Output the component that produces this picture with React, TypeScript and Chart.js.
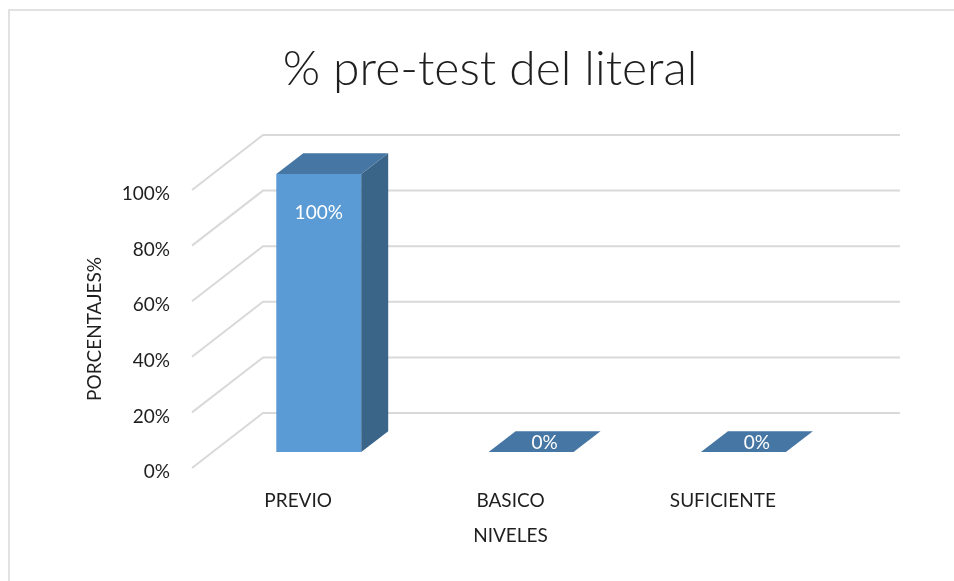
import React, { useEffect, useRef } from 'react';
import { Chart, registerables } from 'chart.js';

Chart.register(...registerables);

const TITLE = '% pre-test del literal';
const CATEGORIES = ['PREVIO', 'BASICO', 'SUFICIENTE'];
const VALUES = [1, 0, 0];
const Y_TICKS = [0, 0.2, 0.4, 0.6, 0.8, 1];
const X_TITLE = 'NIVELES';
const Y_TITLE = 'PORCENTAJES%';

const FONT = 'Lato, "Noto Sans", sans-serif';
const TEXT = '#1f1f1f';
const GRID = '#d9d9d9';
const FRONT = '#5b9bd5';
const SIDE = '#3b6489';
const TOP = '#4676a3';
const DEPTH = { dx: 71, dy: -55 };
const BAR_FRONT = 0.29;
const BAR_BACK = 0.67;

const pct = (v: number) => Math.round(v * 100) + '%';

const threeD = {
  id: 'threeD',
  beforeDraw(chart: any) {
    const ctx = chart.ctx;
    ctx.save();
    ctx.strokeStyle = GRID;
    ctx.lineWidth = 1.5;
    ctx.beginPath();
    ctx.moveTo(1, chart.height);
    ctx.lineTo(1, 2);
    ctx.lineTo(chart.width, 2);
    ctx.stroke();
    ctx.restore();
  },
  beforeDatasetsDraw(chart: any) {
    const { ctx } = chart;
    const x = chart.scales.x;
    const y = chart.scales.y;
    ctx.save();
    ctx.strokeStyle = GRID;
    ctx.lineWidth = 2;
    for (const t of Y_TICKS) {
      const py = y.getPixelForValue(t);
      ctx.beginPath();
      ctx.moveTo(x.left, py);
      ctx.lineTo(x.left + DEPTH.dx, py + DEPTH.dy);
      ctx.lineTo(x.right + DEPTH.dx, py + DEPTH.dy);
      ctx.stroke();
    }
    ctx.restore();
  },
  beforeDatasetDraw(chart: any) {
    const ctx = chart.ctx;
    ctx.save();
    ctx.translate(DEPTH.dx * BAR_FRONT, DEPTH.dy * BAR_FRONT);
  },
  afterDatasetDraw(chart: any, args: any) {
    const ctx = chart.ctx;
    const ddx = DEPTH.dx * (BAR_BACK - BAR_FRONT);
    const ddy = DEPTH.dy * (BAR_BACK - BAR_FRONT);
    args.meta.data.forEach((bar: any) => {
      const { x, y, base, width } = bar.getProps(['x', 'y', 'base', 'width'], true);
      const l = x - width / 2;
      const r = x + width / 2;
      if (base - y > 0.5) {
        ctx.fillStyle = SIDE;
        ctx.beginPath();
        ctx.moveTo(r, y);
        ctx.lineTo(r + ddx, y + ddy);
        ctx.lineTo(r + ddx, base + ddy);
        ctx.lineTo(r, base);
        ctx.closePath();
        ctx.fill();
      }
      ctx.fillStyle = TOP;
      ctx.beginPath();
      ctx.moveTo(l, y);
      ctx.lineTo(r, y);
      ctx.lineTo(r + ddx, y + ddy);
      ctx.lineTo(l + ddx, y + ddy);
      ctx.closePath();
      ctx.fill();
    });
    ctx.restore();
  },
  afterDatasetsDraw(chart: any) {
    const ctx = chart.ctx;
    const meta = chart.getDatasetMeta(0);
    const fdx = DEPTH.dx * BAR_FRONT;
    const fdy = DEPTH.dy * BAR_FRONT;
    const ddx = DEPTH.dx * (BAR_BACK - BAR_FRONT);
    const ddy = DEPTH.dy * (BAR_BACK - BAR_FRONT);
    ctx.save();
    ctx.fillStyle = '#ffffff';
    ctx.font = `19px ${FONT}`;
    ctx.textAlign = 'center';
    ctx.textBaseline = 'middle';
    meta.data.forEach((bar: any, i: number) => {
      const { x, y, base } = bar.getProps(['x', 'y', 'base'], true);
      const v = VALUES[i];
      const txt = pct(v);
      if (base - y > 40) {
        ctx.fillText(txt, x + fdx, y + fdy + 39);
      } else {
        ctx.fillText(txt, x + fdx + ddx / 2, y + fdy + ddy / 2 + 1);
      }
    });
    ctx.restore();
  },
};

export default function App() {
  const ref = useRef<HTMLCanvasElement>(null);
  useEffect(() => {
    if (!ref.current) return;
    const chart = new Chart(ref.current, {
      type: 'bar',
      data: {
        labels: CATEGORIES,
        datasets: [
          {
            data: VALUES,
            backgroundColor: FRONT,
            borderWidth: 0,
            barPercentage: 0.4,
            categoryPercentage: 1,
          },
        ],
      },
      options: {
        animation: false,
        responsive: true,
        maintainAspectRatio: false,
        layout: { padding: { left: 18, right: 0, top: 0, bottom: 0 } },
        plugins: {
          legend: { display: false },
          tooltip: { enabled: false },
          title: {
            display: true,
            text: TITLE,
            color: TEXT,
            font: { family: FONT, size: 48, weight: '300', lineHeight: 1.2 },
            padding: { top: 33, bottom: 91.4 },
          },
        },
        scales: {
          x: {
            grid: { display: false, drawTicks: false },
            border: { display: false },
            ticks: { color: TEXT, font: { family: FONT, size: 19 }, padding: 21 },
            title: {
              display: true,
              text: X_TITLE,
              color: TEXT,
              font: { family: FONT, size: 19, lineHeight: 1.2 },
              padding: { top: 0, bottom: 34 },
            },
            afterFit: (s: any) => {
              s.height = 113;
            },
          },
          y: {
            min: 0,
            max: 1,
            grid: { display: false, drawTicks: false },
            border: { display: false },
            afterBuildTicks: (s: any) => {
              s.ticks = Y_TICKS.map((v) => ({ value: v }));
            },
            ticks: {
              color: TEXT,
              font: { family: FONT, size: 19 },
              padding: 22,
              labelOffset: 4,
              callback: (v: any) => pct(Number(v)),
            },
            title: {
              display: true,
              text: Y_TITLE,
              color: TEXT,
              font: { family: FONT, size: 19, lineHeight: 1.2 },
              padding: { top: 57.6, bottom: 0 },
            },
            afterFit: (s: any) => {
              s.width = 166;
            },
          },
          yRight: {
            position: 'right',
            display: true,
            min: 0,
            max: 1,
            grid: { display: false, drawTicks: false },
            border: { display: false },
            ticks: { display: false },
            afterFit: (s: any) => {
              s.width = 125;
            },
          },
        },
      },
      plugins: [threeD],
    });
    return () => chart.destroy();
  }, []);
  return (
    <div style={{ position: 'absolute', left: 8, top: 8, width: 946, height: 573 }}>
      <canvas ref={ref} />
    </div>
  );
}
